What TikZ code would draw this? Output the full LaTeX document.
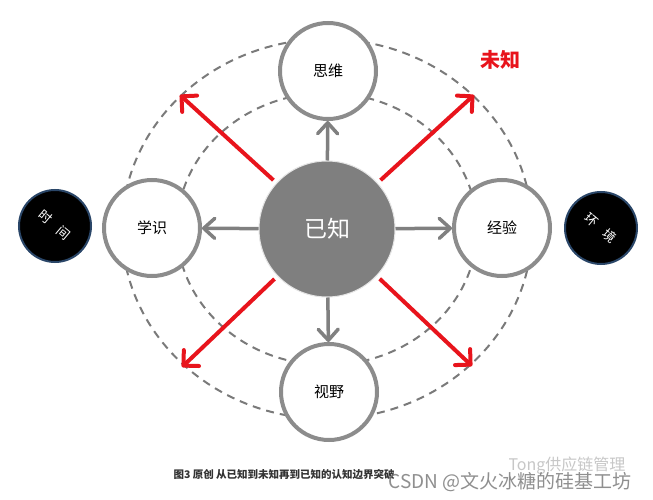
\documentclass[tikz,border=0pt]{standalone}
\usepackage{fontspec}
\newfontfamily\cjk{Noto Sans CJK SC}
\usetikzlibrary{arrows.meta}
\definecolor{ringgray}{HTML}{8C8C8C}
\definecolor{dashgray}{HTML}{7A7A7A}
\definecolor{arrowgray}{HTML}{808080}
\definecolor{coregray}{HTML}{7F7F7F}
\definecolor{knowred}{HTML}{E8141C}
\definecolor{glow}{HTML}{2A4668}
\definecolor{captiongray}{HTML}{333333}
\begin{document}
\begin{tikzpicture}[x=1pt,y=-1pt,
  ringnode/.style={circle, draw=ringgray, line width=4pt, fill=white, minimum size=96pt, inner sep=0pt,
    font=\cjk\fontsize{15}{15}\selectfont},
  corenode/.style={circle, draw=white!80!gray, line width=1pt, fill=coregray, minimum size=136pt, inner sep=0pt,
    text=white, font=\cjk\fontsize{23}{23}\selectfont},
  darknode/.style={circle, draw=glow, line width=2pt, fill=black, minimum size=72pt, inner sep=0pt},
  darkchar/.style={text=white, font=\cjk\fontsize{13}{13}\selectfont, rotate=-40, inner sep=0pt},
  dashring/.style={draw=dashgray, line width=2pt, dash pattern=on 8pt off 6pt},
  grayarrow/.style={draw=arrowgray, line width=3.5pt, -{Straight Barb[length=11pt,width=20pt,round]}},
  redarrow/.style={draw=knowred, line width=4pt, shorten <=4pt, -{Straight Barb[length=11pt,width=22pt,round]}}
]
\useasboundingbox (0,0) rectangle (653,500);
\fill[white] (0,0) rectangle (653,500);
% dashed rings
\draw[dashring] (327,229) ellipse [x radius=205, y radius=190];
\draw[dashring] (327,229) ellipse [x radius=150, y radius=136];
% nodes
\node[corenode] (C) at (327,229) {已知};
\node[ringnode] (T) at (328,71) {思维};
\node[ringnode] (B) at (329,392) {视野};
\node[ringnode] (L) at (152,228) {学识};
\node[ringnode] (R) at (502,228) {经验};
\node[darknode] (time) at (55,226) {};
\node[darkchar] (time1) at (45.5,217) {时};
\node[darkchar] (time2) at (64,233) {间};
\node[darknode] (env) at (601,228) {};
\node[darkchar] (env1) at (591,220) {环};
\node[darkchar] (env2) at (609.5,236) {境};
% gray arrows
\draw[grayarrow] (C) -- (T);
\draw[grayarrow] (C) -- (B);
\draw[grayarrow] (C) -- (L);
\draw[grayarrow] (C) -- (R);
% red arrows
\coordinate (ul) at (180,95);
\coordinate (ur) at (474,95);
\coordinate (dl) at (182,367);
\coordinate (dr) at (472,366);
\draw[redarrow] (C) -- (ul);
\draw[redarrow] (C) -- (ur);
\draw[redarrow] (C) -- (dl);
\draw[redarrow] (C) -- (dr);
% labels
\node[text=knowred, font=\cjk\bfseries\fontsize{20}{20}\selectfont] (unknown) at (500,60) {未知};
\node[text=captiongray, font=\cjk\bfseries\fontsize{10.5}{10.5}\selectfont, anchor=west] (caption) at (170,475) {图3 原创 从已知到未知再到已知的认知边界突破};
\node[text=black!22, font=\cjk\fontsize{16}{16}\selectfont, anchor=west] (wm1) at (505,466) {Tong供应链管理};
\node[text=black!55, opacity=0.8, font=\cjk\fontsize{19}{19}\selectfont, anchor=west] (wm2) at (385,482) {CSDN @文火冰糖的硅基工坊};
\end{tikzpicture}
\end{document}
